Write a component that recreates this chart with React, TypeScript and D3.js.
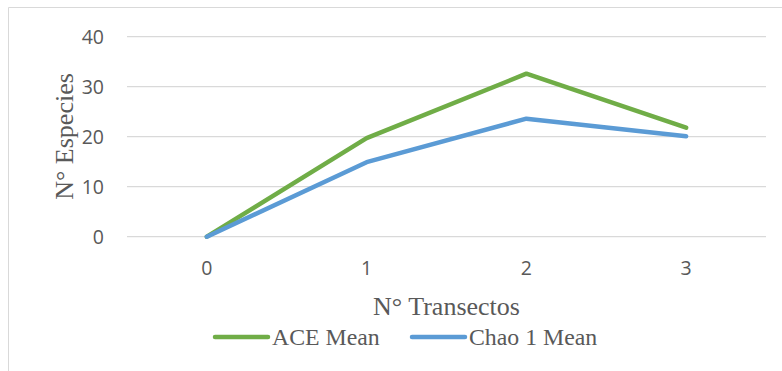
import React from "react";
import * as d3 from "d3";

const categories = ["0", "1", "2", "3"];
const aceMean = [0, 19.7, 32.6, 21.8];
const chaoMean = [0, 14.9, 23.6, 20.1];
const yTicks = [0, 10, 20, 30, 40];

const series = [
  { name: "ACE Mean", values: aceMean, color: "#70ad47" },
  { name: "Chao 1 Mean", values: chaoMean, color: "#5b9bd5" },
];

export default function App() {
  const width = 782;
  const height = 371;
  const plotLeft = 127;
  const plotRight = 766;
  const x = d3.scaleBand<string>().domain(categories).range([plotLeft, plotRight]);
  const y = d3.scaleLinear().domain([0, 40]).range([236.7, 36.7]);
  const line = d3
    .line<number>()
    .x((_, i) => (x(categories[i]) as number) + x.bandwidth() / 2)
    .y((d) => y(d));

  const sans = "'Open Sans', sans-serif";
  const serif = "'Liberation Serif', 'Times New Roman', serif";

  return (
    <svg
      width={width}
      height={height}
      style={{ position: "absolute", left: 0, top: 0, background: "#fff" }}
    >
      {/* chart frame */}
      <line x1={8.5} y1={7.5} x2={width} y2={7.5} stroke="#d9d9d9" strokeWidth={1} />
      <line x1={8.5} y1={7.5} x2={8.5} y2={height} stroke="#d9d9d9" strokeWidth={1} />

      {/* grid + y ticks */}
      {yTicks.map((t) => (
        <g key={t}>
          <line x1={plotLeft} x2={plotRight} y1={y(t)} y2={y(t)} stroke="#d9d9d9" strokeWidth={1.3} />
          <text
            x={104}
            y={y(t)}
            dy="0.36em"
            textAnchor="end"
            fontFamily={sans}
            fontSize={19.5}
            fill="#595959"
          >
            {t}
          </text>
        </g>
      ))}

      {/* x ticks */}
      {categories.map((c) => (
        <text
          key={c}
          x={(x(c) as number) + x.bandwidth() / 2}
          y={268}
          dy="0.36em"
          textAnchor="middle"
          fontFamily={sans}
          fontSize={19.5}
          fill="#595959"
        >
          {c}
        </text>
      ))}

      {/* series */}
      {series.map((s) => (
        <path
          key={s.name}
          d={line(s.values) || ""}
          fill="none"
          stroke={s.color}
          strokeWidth={4.5}
          strokeLinecap="round"
          strokeLinejoin="round"
        />
      ))}

      {/* axis titles */}
      <text
        x={(plotLeft + plotRight) / 2}
        y={315}
        textAnchor="middle"
        fontFamily={serif}
        fontSize={26}
        fill="#595959"
      >
        N° Transectos
      </text>
      <text
        transform={`translate(73,136.5) rotate(-90)`}
        textAnchor="middle"
        fontFamily={serif}
        fontSize={26}
        fill="#595959"
      >
        N° Especies
      </text>

      {/* legend */}
      {[
        { s: series[0], x0: 215, tx: 272 },
        { s: series[1], x0: 412, tx: 469 },
      ].map(({ s, x0, tx }) => (
        <g key={s.name}>
          <line
            x1={x0}
            x2={x0 + 53}
            y1={337}
            y2={337}
            stroke={s.color}
            strokeWidth={4.5}
            strokeLinecap="round"
          />
          <text x={tx} y={345} fontFamily={serif} fontSize={23.8} fill="#595959">
            {s.name}
          </text>
        </g>
      ))}
    </svg>
  );
}
